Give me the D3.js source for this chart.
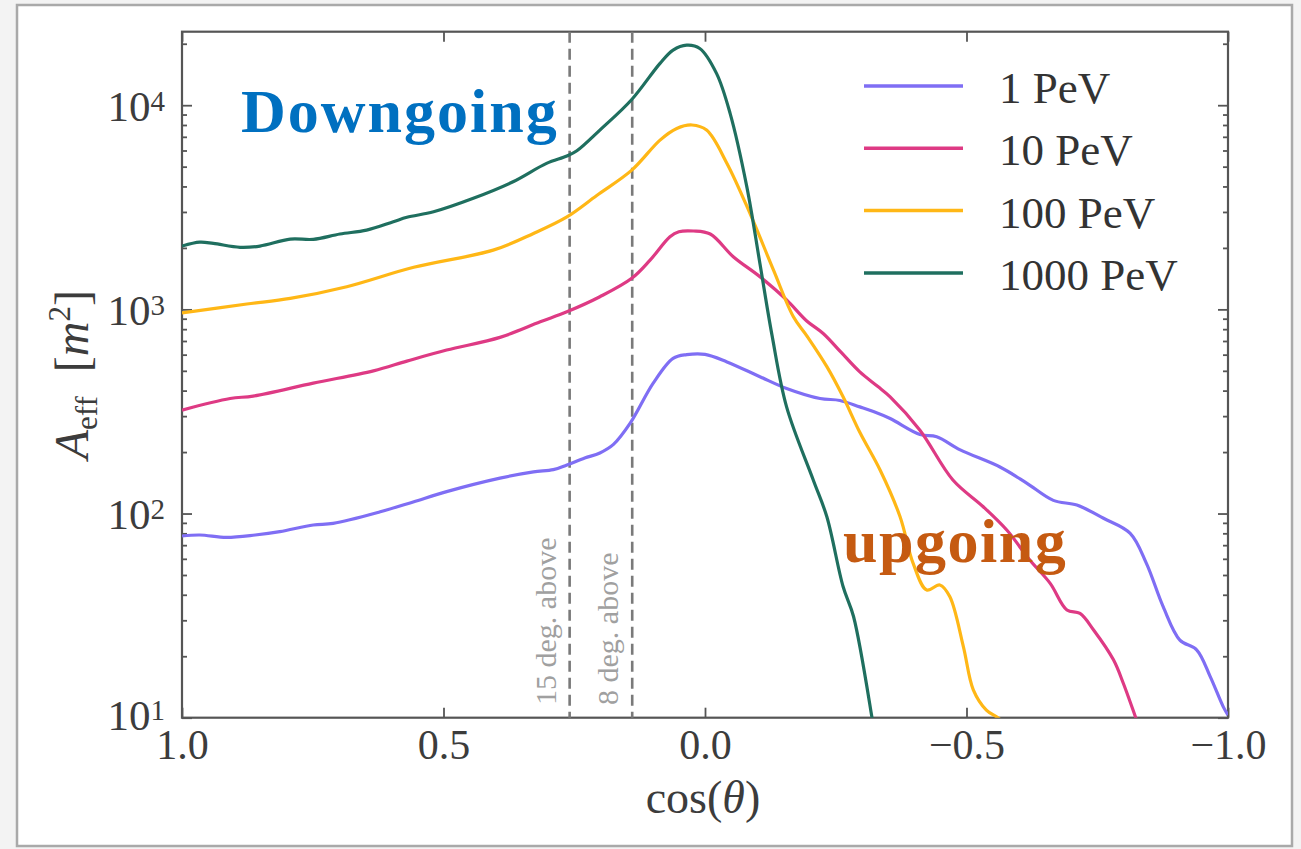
<!DOCTYPE html>
<html><head><meta charset="utf-8">
<script src="https://cdn.jsdelivr.net/npm/d3@7"></script>
<style>
html,body{margin:0;padding:0;background:#f3f3f3;}
svg{display:block;}
</style></head><body>
<svg id="chart" width="1301" height="849"></svg>
<script>
// ---------------- data ----------------
const seriesNames = ["1 PeV", "10 PeV", "100 PeV", "1000 PeV"];
// [cos(theta), A_eff in m^2]
const pev1 = [[1.0,77.6],[0.966,78.5],[0.915,76.4],[0.860,78.5],[0.813,81.5],[0.749,87.9],[0.711,89.5],[0.621,102],[0.558,114],[0.494,128],[0.392,149],[0.328,160],[0.290,164],[0.264,173],[0.230,187],[0.201,198],[0.175,218],[0.143,277],[0.099,435],[0.061,575],[0.035,600],[0.0,602],[-0.042,553],[-0.105,468],[-0.156,410],[-0.220,366],[-0.258,358],[-0.296,333],[-0.322,316],[-0.354,292],[-0.411,244],[-0.443,238],[-0.488,205],[-0.564,169],[-0.615,141],[-0.666,116],[-0.711,110],[-0.762,94.8],[-0.813,80.0],[-0.844,57.0],[-0.876,35.0],[-0.908,24.0],[-0.940,21.5],[-0.966,15.9],[-0.991,11.3],[-1.0,10.3]];
const pev10 = [[1.0,321],[0.908,366],[0.864,376],[0.749,435],[0.634,500],[0.570,558],[0.494,632],[0.392,729],[0.315,869],[0.264,973],[0.201,1153],[0.140,1419],[0.105,1742],[0.067,2270],[0.050,2400],[0.022,2420],[-0.010,2339],[-0.054,1811],[-0.105,1445],[-0.156,1112],[-0.194,880],[-0.226,762],[-0.260,617],[-0.296,494],[-0.330,420],[-0.354,373],[-0.411,256],[-0.474,146],[-0.532,108],[-0.577,83],[-0.621,59.2],[-0.660,45.5],[-0.692,33.7],[-0.717,32.4],[-0.743,26.9],[-0.781,19.2],[-0.800,14.7],[-0.823,10.1],[-0.830,9.0]];
const pev100 = [[1.0,962],[0.876,1062],[0.793,1132],[0.685,1291],[0.557,1607],[0.405,1950],[0.328,2355],[0.264,2838],[0.207,3614],[0.140,4808],[0.086,6745],[0.054,7690],[0.025,8000],[-0.003,7551],[-0.042,5188],[-0.086,2951],[-0.131,1556],[-0.169,920],[-0.195,740],[-0.233,524],[-0.264,373],[-0.296,250],[-0.335,163],[-0.373,96.4],[-0.398,57.0],[-0.424,42.2],[-0.449,44.7],[-0.468,39.2],[-0.494,22.3],[-0.513,13.7],[-0.538,10.9],[-0.560,10.0],[-0.570,9.5]];
const pev1000 = [[1.0,2042],[0.966,2133],[0.940,2104],[0.889,2014],[0.851,2042],[0.793,2208],[0.749,2203],[0.698,2339],[0.647,2443],[0.596,2685],[0.570,2825],[0.519,3006],[0.443,3499],[0.367,4217],[0.303,5188],[0.264,5636],[0.245,5980],[0.201,7551],[0.140,10666],[0.086,16032],[0.061,18620],[0.035,19679],[0.010,18967],[-0.022,14322],[-0.048,9120],[-0.080,3981],[-0.105,1679],[-0.128,750],[-0.156,333],[-0.207,146],[-0.233,96.4],[-0.264,43.9],[-0.284,31.3],[-0.319,10.1],[-0.325,8.0]];
const seriesData = [pev1, pev10, pev100, pev1000];

const xTickValues = [1.0, 0.5, 0.0, -0.5, -1.0];
const xTickLabels = ["1.0", "0.5", "0.0", "\u22120.5", "\u22121.0"];
const yTickValues = [10, 100, 1000, 10000];
const yTickExponents = ["1", "2", "3", "4"];
const markerCos = [Math.sin(15 * Math.PI / 180), Math.sin(8 * Math.PI / 180)];
const markerLabels = ["15 deg. above", "8 deg. above"];

// ---------------- styling ----------------
const colors = ["#7f6ef4", "#de3a84", "#ffb716", "#1f6f5f"];
const serif = "'Liberation Serif', 'DejaVu Serif', serif";
const L = 182, R = 1228, T = 31.7, B = 717.7;

const svg = d3.select("#chart");
// card
svg.append("rect").attr("x", 17).attr("y", 5).attr("width", 1275).attr("height", 841)
  .attr("fill", "#fff").attr("stroke", "#a9a9a9").attr("stroke-width", 2.5);

const x = d3.scaleLinear().domain([1, -1]).range([L, R]);
const y = d3.scaleLog().domain([10, Math.pow(10, 4.36)]).range([B, T]);

svg.append("clipPath").attr("id", "clip").append("rect")
  .attr("x", L).attr("y", T).attr("width", R - L).attr("height", B - T);

// minor y ticks
const yMinor = [];
for (let e = 1; e <= 4; e++) for (let m = 2; m <= 9; m++) { const v = m * Math.pow(10, e); if (v < y.domain()[1]) yMinor.push(v); }

function styleAxis(g) {
  g.select(".domain").remove();
  g.selectAll(".tick line").attr("stroke", "#555").attr("stroke-width", 1.8);
}
svg.append("g").attr("transform", `translate(${L},0)`)
  .call(d3.axisLeft(y).tickValues(yMinor).tickSize(-5).tickFormat(() => "")).call(styleAxis);
svg.append("g").attr("transform", `translate(${R},0)`)
  .call(d3.axisRight(y).tickValues(yMinor).tickSize(-5).tickFormat(() => "")).call(styleAxis);
svg.append("g").attr("transform", `translate(${L},0)`)
  .call(d3.axisLeft(y).tickValues(yTickValues).tickSize(-10).tickFormat(() => "")).call(styleAxis);
svg.append("g").attr("transform", `translate(${R},0)`)
  .call(d3.axisRight(y).tickValues(yTickValues).tickSize(-10).tickFormat(() => "")).call(styleAxis);
svg.append("g").attr("transform", `translate(0,${T})`)
  .call(d3.axisTop(x).tickValues(xTickValues).tickSize(-10).tickFormat(() => "")).call(styleAxis);
const xg = svg.append("g").attr("transform", `translate(0,${B})`)
  .call(d3.axisBottom(x).tickValues(xTickValues).tickSize(-10).tickPadding(11.5)
    .tickFormat((d, i) => xTickLabels[i])).call(styleAxis);
xg.attr("font-family", null).attr("font-size", null);
xg.selectAll(".tick text").attr("font-family", serif).attr("font-size", 42).attr("fill", "#3c3c3c");

// y tick labels with superscripts
const yl = svg.append("g");
yTickValues.forEach((v, i) => {
  const shift = i === 0 ? -3 : 0;
  const t = yl.append("text").attr("x", 165).attr("y", y(v) + 15.5 + shift)
    .attr("text-anchor", "end").attr("font-family", serif).attr("font-size", 43).attr("fill", "#3c3c3c");
  t.append("tspan").text("10");
  t.append("tspan").attr("font-size", 29).attr("dy", -10).text(yTickExponents[i]);
});

// frame
svg.append("rect").attr("x", L).attr("y", T).attr("width", R - L).attr("height", B - T)
  .attr("fill", "none").attr("stroke", "#555").attr("stroke-width", 2.2);

// dashed markers
markerCos.forEach((c, i) => {
  svg.append("line").attr("x1", x(c)).attr("x2", x(c)).attr("y1", T).attr("y2", B)
    .attr("stroke", "#7a7a7a").attr("stroke-width", 2.6).attr("stroke-dasharray", "11,6");
  svg.append("text").attr("transform", `translate(${x(c) - 14},705) rotate(-90)`)
    .attr("font-family", serif).attr("font-size", 30).attr("fill", "#a0a0a0")
    .text(markerLabels[i]);
});

// lines
const line = d3.line().x(d => x(d[0])).y(d => y(d[1])).curve(d3.curveCatmullRom.alpha(0.5));
const plot = svg.append("g").attr("clip-path", "url(#clip)");
seriesData.forEach((s, i) => {
  plot.append("path").datum(s).attr("d", line).attr("fill", "none")
    .attr("stroke", colors[i]).attr("stroke-width", 3.2).attr("stroke-linejoin", "round");
});

// legend
seriesNames.forEach((n, i) => {
  const ly = 86 + i * 62.3;
  svg.append("line").attr("x1", 864).attr("x2", 963).attr("y1", ly).attr("y2", ly)
    .attr("stroke", colors[i]).attr("stroke-width", 3.5);
  svg.append("text").attr("x", 999).attr("y", ly + 17).attr("font-family", serif)
    .attr("font-size", 45).attr("fill", "#333").text(n);
});

// axis labels
const xl = svg.append("text").attr("x", 703).attr("y", 813).attr("text-anchor", "middle")
  .attr("font-family", serif).attr("font-size", 46).attr("fill", "#3c3c3c");
xl.append("tspan").text("cos(");
xl.append("tspan").attr("font-style", "italic").text("\u03b8");
xl.append("tspan").text(")");

const ylab = svg.append("text").attr("transform", `translate(88,${(T + B) / 2}) rotate(-90)`)
  .attr("text-anchor", "middle").attr("font-family", serif).attr("font-size", 48).attr("fill", "#3c3c3c");
ylab.append("tspan").attr("font-style", "italic").text("A");
ylab.append("tspan").attr("font-size", 31).attr("dy", 9).text("eff");
ylab.append("tspan").attr("dy", -9).text("\u2002[");
ylab.append("tspan").attr("font-style", "italic").text("m");
ylab.append("tspan").attr("font-size", 31).attr("dy", -18).text("2");
ylab.append("tspan").attr("dy", 18).text("]");

// annotations
svg.append("text").attr("x", 241).attr("y", 132).attr("font-family", serif).attr("font-weight", "bold")
  .attr("font-size", 62).attr("letter-spacing", 2).attr("fill", "#0070c0").text("Downgoing");
svg.append("text").attr("x", 843).attr("y", 562).attr("font-family", serif).attr("font-weight", "bold")
  .attr("font-size", 62).attr("letter-spacing", 1.5).attr("fill", "#c55a11").text("upgoing");
</script>
</body></html>
